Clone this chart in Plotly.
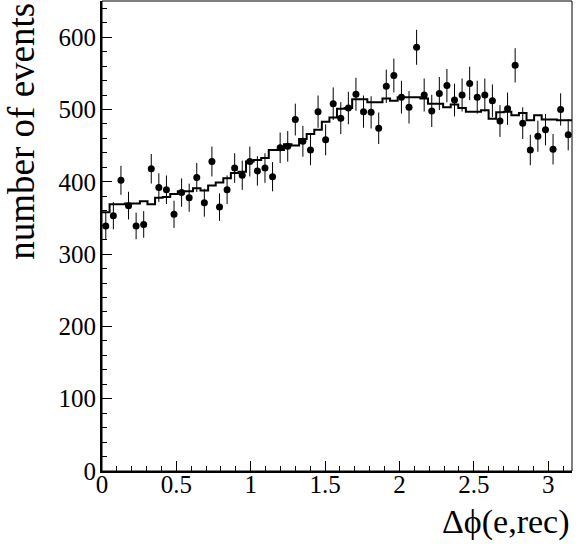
import numpy as np
import plotly.graph_objects as go

# Histogram binning
X_MIN = 0.0
X_MAX = 3.16
N_BINS = 62

# Data counts per bin (points with error bars)
data_counts = [
    339, 353, 402, 367, 339, 341, 418, 392, 389, 355,
    385, 378, 406, 371, 428, 365, 389, 419, 409, 428,
    415, 419, 407, 447, 449, 486, 456, 444, 497, 458,
    508, 488, 502, 521, 497, 496, 474, 532, 547, 517,
    503, 586, 520, 498, 522, 533, 513, 520, 536, 517,
    520, 512, 484, 501, 561, 481, 444, 463, 472, 445,
    500, 465,
]

# Simulated distribution (step histogram)
mc_counts = [
    358, 369, 369, 370, 370, 373, 369, 378, 379, 383,
    387, 387, 391, 388, 395, 399, 405, 412, 414, 428,
    430, 433, 444, 444, 452, 450, 459, 466, 472, 483,
    489, 501, 502, 514, 514, 510, 510, 515, 512, 517,
    517, 517, 515, 508, 508, 503, 507, 502, 497, 497,
    499, 487, 496, 497, 492, 495, 485, 492, 486, 486,
    485, 485,
]

x_ticks = [0, 0.5, 1, 1.5, 2, 2.5, 3]
y_ticks = [0, 100, 200, 300, 400, 500, 600]

edges = np.linspace(X_MIN, X_MAX, N_BINS + 1)
centers = 0.5 * (edges[:-1] + edges[1:])
data_arr = np.array(data_counts, dtype=float)
data_err = np.sqrt(data_arr)

FONT = "Liberation Serif"

fig = go.Figure()

fig.add_trace(go.Scatter(
    x=edges,
    y=list(mc_counts) + [mc_counts[-1]],
    mode="lines",
    line=dict(color="black", width=2, shape="hv"),
    hoverinfo="skip",
    showlegend=False,
))

fig.add_trace(go.Scatter(
    x=centers,
    y=data_arr,
    mode="markers",
    marker=dict(color="black", size=7),
    error_y=dict(type="data", array=data_err, visible=True,
                 color="black", thickness=1, width=0),
    showlegend=False,
))

fig.update_layout(
    width=586,
    height=544,
    margin=dict(l=102, r=14, t=1, b=73),
    paper_bgcolor="white",
    plot_bgcolor="white",
    font=dict(family=FONT, color="black", size=25),
    xaxis=dict(
        range=[X_MIN, X_MAX],
        tickvals=x_ticks,
        ticktext=[str(v) for v in x_ticks],
        ticks="inside",
        ticklen=10,
        tickwidth=1,
        tickcolor="black",
        minor=dict(ticks="inside", ticklen=5, dtick=0.1, tickcolor="black", tickwidth=1),
        showgrid=False,
        zeroline=False,
        showline=True,
        linecolor="black",
        linewidth=2,
        tickfont=dict(family=FONT, size=25, color="black"),
        ticklabelstandoff=-10,
        automargin=False,
    ),
    yaxis=dict(
        range=[0, 650],
        tickvals=y_ticks,
        ticktext=[str(v) for v in y_ticks],
        ticks="inside",
        ticklen=10,
        tickwidth=1,
        tickcolor="black",
        minor=dict(ticks="inside", ticklen=5, dtick=20, tickcolor="black", tickwidth=1),
        showgrid=False,
        zeroline=False,
        showline=True,
        linecolor="black",
        linewidth=2,
        tickfont=dict(family=FONT, size=25, color="black"),
        ticklabelstandoff=-1,
        automargin=False,
    ),
    shapes=[dict(type="rect", xref="paper", yref="paper", x0=0, x1=1, y0=0, y1=1,
                 line=dict(color="black", width=1), fillcolor="rgba(0,0,0,0)")],
    annotations=[
        dict(text="Δϕ(e,rec)", xref="paper", yref="paper", x=1.0, y=-0.108,
             xanchor="right", yanchor="middle", showarrow=False,
             font=dict(family=FONT, size=34, color="black")),
        dict(text="number of events", xref="paper", yref="paper", x=-0.172, y=1.0,
             xanchor="center", yanchor="top", textangle=-90, showarrow=False,
             font=dict(family=FONT, size=37, color="black")),
    ],
)

fig.write_html(
    "out.html",
    config={"displayModeBar": False},
    post_script="document.body.style.margin='0';document.body.style.padding='0';",
)
